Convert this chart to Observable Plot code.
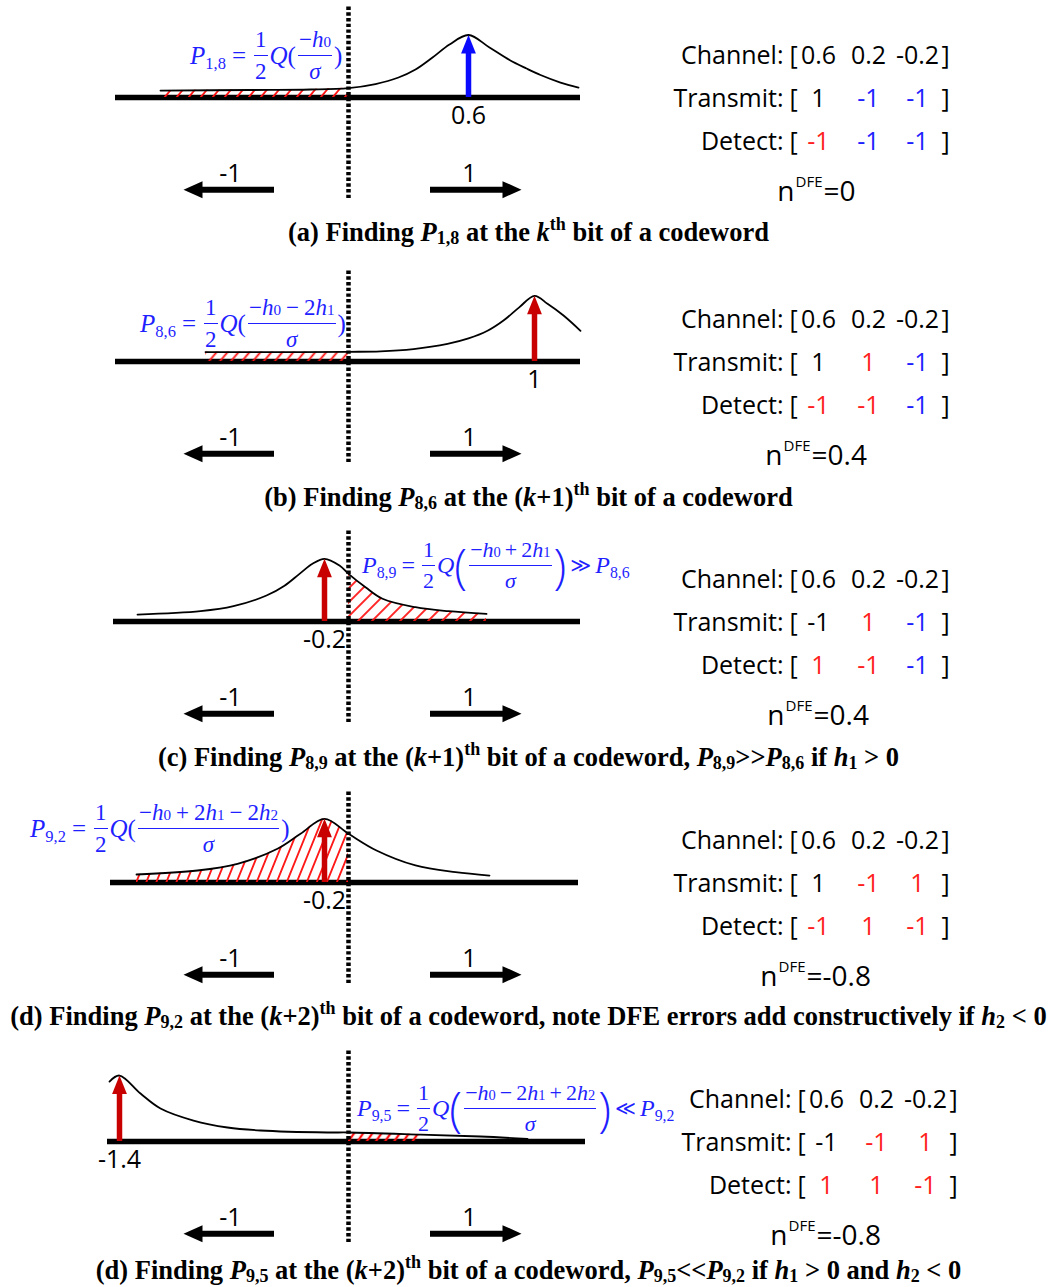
<!DOCTYPE html>
<html><head><meta charset="utf-8">
<script src="https://cdn.jsdelivr.net/npm/d3@7"></script>
<script src="https://cdn.jsdelivr.net/npm/@observablehq/plot@0.6"></script>
<style>
body{margin:0;background:#fff}
#root{position:relative;width:1057px;height:1287px;overflow:hidden}
.panel{position:absolute;left:0;width:1057px;height:212px}
.panel svg{display:block;overflow:visible}
.f{position:absolute;height:0;display:flex;align-items:center;color:#1f1fff;font-family:"Liberation Serif",serif;font-size:25px;line-height:1;white-space:nowrap}
.f sub{font-size:0.66em;vertical-align:-0.3em;font-style:normal;line-height:0}
.f .fr{display:flex;flex-direction:column;align-items:stretch;margin:0 2px;font-size:23px}
.f .nu{border-bottom:1.7px solid currentColor;padding:0 1px 4px;text-align:center}
.f .de{padding-top:4px;text-align:center}
.f .op{margin:0 6px}
.f .bo{margin:0 5px}
.f .big{font-family:"Open Sans",sans-serif;font-weight:300;font-size:50px;margin:0 1px}
.f .rel{margin:0 6px;font-family:"DejaVu Sans",sans-serif;font-size:21px}
.f.compact{font-size:24px}
.f.compact .fr{font-size:22px}
.f.compact .op{margin:0 5px}
.f.compact .bo{margin:0 4px}
.f.compact .big{font-size:47px;margin:0}
.f.compact .rel{margin:0 4px;font-size:20px}
.cap{position:absolute;left:0;width:1057px;text-align:center;font-family:"Liberation Serif",serif;font-weight:bold;font-size:26.5px;line-height:26px;white-space:nowrap}
.cap sub{font-size:0.68em;vertical-align:-0.15em;line-height:0}
.cap sup{font-size:0.68em;vertical-align:0.6em;line-height:0}
</style></head><body><div id="root"></div>
<script>
// ---------------- data ----------------
const panelIds = ["a", "b", "c", "d", "e"];
const peakPos = [0.6, 0.93, -0.12, -0.12, -1.145];
const peakHeight = [0.977, 1.027, 0.98, 0.995, 1.031];
const peakLabels = ["0.6", "1", "-0.2", "-0.2", "-1.4"];
const peakTone = ["b", "r", "r", "r", "r"];
const densityA = [[-0.94,0.109],[-0.49,0.117],[-0.19,0.125],[0,0.148],[0.135,0.211],[0.25,0.3125],[0.335,0.4375],[0.42,0.625],[0.505,0.828],[0.6,0.977],[0.705,0.781],[0.805,0.586],[0.89,0.453],[0.96,0.352],[1.06,0.234],[1.15,0.156]];
const densityB = [[-0.715,0.148],[-0.24,0.148],[0,0.152],[0.16,0.158],[0.325,0.194],[0.495,0.275],[0.6,0.36],[0.695,0.48],[0.775,0.64],[0.855,0.85],[0.93,1.027],[0.995,0.902],[1.075,0.719],[1.16,0.48]];
const densityC = [[-1.055,0.109],[-0.74,0.161],[-0.575,0.239],[-0.41,0.406],[-0.32,0.56],[-0.245,0.745],[-0.18,0.902],[-0.12,0.98],[-0.045,0.875],[0,0.745],[0.085,0.536],[0.17,0.355],[0.335,0.223],[0.5,0.161],[0.69,0.12]];
const densityD = [[-1.06,0.125],[-0.755,0.1875],[-0.555,0.292],[-0.355,0.527],[-0.24,0.761],[-0.12,0.995],[0,0.761],[0.14,0.5],[0.335,0.266],[0.535,0.161],[0.705,0.109]];
const densityE = [[-1.195,0.9375],[-1.145,1.031],[-1.04,0.75],[-0.94,0.516],[-0.775,0.328],[-0.605,0.219],[-0.44,0.172],[-0.105,0.141],[0,0.141],[0.36,0.109],[0.66,0.078],[0.895,0.039]];
const densities = [densityA, densityB, densityC, densityD, densityE];
const errorRegion = [[-0.94, 0], [-0.715, 0], [0, 0.69], [-1.06, 0], [0, 0.36]];
const axisSpan = [[-1.165, 1.16], [-1.165, 1.16], [-1.175, 1.16], [-1.19, 1.15], [-1.205, 1.185]];
const decisionLabels = ["-1", "1"];
const channelTaps = ["0.6", "0.2", "-0.2"];
const transmit = [["1","-1","-1"], ["1","1","-1"], ["-1","1","-1"], ["1","-1","1"], ["-1","-1","1"]];
const transmitTone = [["k","b","b"], ["k","r","b"], ["k","r","b"], ["k","r","r"], ["k","r","r"]];
const detect = [["-1","-1","-1"], ["-1","-1","-1"], ["1","-1","-1"], ["-1","1","-1"], ["1","1","-1"]];
const detectTone = [["r","b","b"], ["r","r","b"], ["r","r","b"], ["r","r","r"], ["r","r","r"]];
const nDFE = ["0", "0.4", "0.4", "-0.8", "-0.8"];
const rowLabels = ["Channel:", "Transmit:", "Detect:"];
const captions = [
  `(a) Finding <i>P</i><sub>1,8</sub> at the <i>k</i><sup>th</sup> bit of a codeword`,
  `(b) Finding <i>P</i><sub>8,6</sub> at the (<i>k</i>+1)<sup>th</sup> bit of a codeword`,
  `(c) Finding <i>P</i><sub>8,9</sub> at the (<i>k</i>+1)<sup>th</sup> bit of a codeword, <i>P</i><sub>8,9</sub>&gt;&gt;<i>P</i><sub>8,6</sub> if <i>h</i><sub>1</sub> &gt; 0`,
  `(d) Finding <i>P</i><sub>9,2</sub> at the (<i>k</i>+2)<sup>th</sup> bit of a codeword, note DFE errors add constructively if <i>h</i><sub>2</sub> &lt; 0`,
  `(d) Finding <i>P</i><sub>9,5</sub> at the (<i>k</i>+2)<sup>th</sup> bit of a codeword, <i>P</i><sub>9,5</sub>&lt;&lt;<i>P</i><sub>9,2</sub> if <i>h</i><sub>1</sub> &gt; 0 and <i>h</i><sub>2</sub> &lt; 0`
];
// formula pieces
const hs = k => `<i>h</i><sub>${k}</sub>`;
const formulaNum = [
  [`−${hs(0)}`],
  [`−${hs(0)}`, "−", `2${hs(1)}`],
  [`−${hs(0)}`, "+", `2${hs(1)}`],
  [`−${hs(0)}`, "+", `2${hs(1)}`, "−", `2${hs(2)}`],
  [`−${hs(0)}`, "−", `2${hs(1)}`, "+", `2${hs(2)}`]
];
const formulaP = ["1,8", "8,6", "8,9", "9,2", "9,5"];
const formulaRel = [null, null, ["≫", "8,6"], null, ["≪", "9,2"]];

// ---------------- style / layout ----------------
const W = 1057, H = 212;
const toneColor = {k: "#000000", r: "#ff1f1f", b: "#1f1fff"};
const arrowColor = {b: "#0a0aff", r: "#c80000"};
const blockTop = [0, 263.5, 524, 785, 1044];
const capTop = [219, 484, 744, 1003, 1257];
const formulaAt = [[190, 55], [140, 59.5], [362, 41], [30, 43], [357, 64]];
const tableShift = [0, 0, 0, 0, 0.04];
const ndfeX = [2.23, 2.17, 2.18, 2.145, 2.195];
const hatchStyle = [{p: 9.2, t: 40, w: 1.8}, {p: 8.4, t: 40, w: 1.8}, {p: 9.9, t: 45, w: 1.8}, {p: 9.3, t: 22, w: 1.8}, {p: 7.5, t: 35, w: 2.3}];
const sans = "Open Sans, sans-serif";

const headUp = {draw(c, size) { const s = Math.sqrt(size / Math.PI); c.moveTo(0, 0); c.lineTo(-0.78 * s, 1.95 * s); c.lineTo(0.78 * s, 1.95 * s); c.closePath(); }};
const headLeft = {draw(c, size) { const s = Math.sqrt(size / Math.PI); c.moveTo(0, 0); c.lineTo(1.9 * s, -0.85 * s); c.lineTo(1.9 * s, 0.85 * s); c.closePath(); }};
const headRight = {draw(c, size) { const s = Math.sqrt(size / Math.PI); c.moveTo(0, 0); c.lineTo(-1.9 * s, -0.85 * s); c.lineTo(-1.9 * s, 0.85 * s); c.closePath(); }};

const root = document.getElementById("root");

function formulaHTML(i) {
  const P = s => `<span><i>P</i><sub>${s}</sub></span>`;
  const frac = (n, d) => `<span class="fr"><span class="nu">${n}</span><span class="de">${d}</span></span>`;
  const num = formulaNum[i].map((t, j) => (j % 2 === 1 ? `<span class="bo">${t}</span>` : t)).join("");
  const big = formulaRel[i] != null;
  const lp = big ? `<span class="big">(</span>` : `<span>(</span>`;
  const rp = big ? `<span class="big">)</span>` : `<span>)</span>`;
  let html = P(formulaP[i]) + `<span class="op">=</span>` + frac("1", "2") + `<span><i>Q</i></span>` + lp +
    `<span class="fr"><span class="nu" style="display:flex;align-items:baseline;justify-content:center">${num}</span><span class="de"><i>σ</i></span></span>` + rp;
  if (big) html += `<span class="rel">${formulaRel[i][0]}</span>` + P(formulaRel[i][1]);
  return html;
}

panelIds.forEach((id, i) => {
  const dens = densities[i];
  const [lo, hi] = errorRegion[i];
  const sh = tableShift[i];
  const cols = [2.35, 2.6, 2.845].map(v => v + sh);
  const rowY = [0.656, -0.016, -0.6875];
  const labels = rowLabels.map((t, r) => ({x: 2.175 + sh, y: rowY[r], text: t}));
  const brackets = [];
  rowY.forEach(y => { brackets.push({x: 2.205 + sh, y, text: "["}); brackets.push({x: 2.965 + sh, y, text: "]"}); });
  const values = [];
  channelTaps.forEach((t, c) => values.push({x: cols[c], y: rowY[0], text: t, tone: "k"}));
  transmit[i].forEach((t, c) => values.push({x: cols[c], y: rowY[1], text: t, tone: transmitTone[i][c]}));
  detect[i].forEach((t, c) => values.push({x: cols[c], y: rowY[2], text: t, tone: detectTone[i][c]}));
  const ac = arrowColor[peakTone[i]];

  const svg = Plot.plot({
    width: W, height: H, margin: 0,
    x: {domain: [-1.74, 3.545], axis: null},
    y: {domain: [-1.797, 1.516], axis: null},
    color: {type: "identity"},
    style: {overflow: "visible", background: "none"},
    marks: [
      Plot.ruleY([0], {x1: axisSpan[i][0], x2: axisSpan[i][1], stroke: "#000", strokeWidth: 5.5}),
      Plot.areaY(dens, {x: d => d[0], y1: 0, y2: d => d[1], filter: d => d[0] >= lo - 1e-9 && d[0] <= hi + 1e-9, curve: "catmull-rom", fill: `url(#hatch-${id})`}),
      Plot.line(dens, {x: d => d[0], y: d => d[1], curve: "catmull-rom", stroke: "#000", strokeWidth: 1.8}),
      Plot.ruleX([0], {y1: -1.58, y2: 1.44, stroke: "#000", strokeWidth: 4.5, strokeDasharray: "3.4,2.3"}),
      Plot.ruleX([peakPos[i]], {x: d => d, y1: 0, y2: peakHeight[i] - 0.22, stroke: ac, strokeWidth: 5.5}),
      Plot.dot([peakPos[i]], {x: d => d, y: peakHeight[i], symbol: headUp, r: 9.5, fill: ac, stroke: "none"}),
      Plot.text([peakLabels[i]], {x: peakPos[i], y: -0.29, text: d => d, fontFamily: sans, fontSize: 25, fill: "#000"}),
      // decision arrows
      Plot.ruleY([-1.44], {x1: -0.76, x2: -0.37, stroke: "#000", strokeWidth: 6}),
      Plot.dot([-0.825], {x: d => d, y: -1.44, symbol: headLeft, r: 10, fill: "#000", stroke: "none"}),
      Plot.ruleY([-1.44], {x1: 0.41, x2: 0.80, stroke: "#000", strokeWidth: 6}),
      Plot.dot([0.865], {x: d => d, y: -1.44, symbol: headRight, r: 10, fill: "#000", stroke: "none"}),
      Plot.text(decisionLabels, {x: d => (d === "-1" ? -0.59 : 0.605), y: -1.19, text: d => d, fontFamily: sans, fontSize: 25, fill: "#000"}),
      // right table
      Plot.text(labels, {x: "x", y: "y", text: "text", textAnchor: "end", fontFamily: sans, fontSize: 25, fill: "#000"}),
      Plot.text(brackets, {x: "x", y: "y", text: "text", textAnchor: "start", fontFamily: sans, fontSize: 25, fill: "#000"}),
      Plot.text(values, {x: "x", y: "y", text: "text", fill: d => toneColor[d.tone], fontFamily: sans, fontSize: 25}),
      Plot.text(["n"], {x: ndfeX[i], y: -1.484, text: d => d, textAnchor: "end", fontFamily: sans, fontSize: 28, fill: "#000"}),
      Plot.text(["DFE"], {x: ndfeX[i] + 0.005, y: -1.33, text: d => d, textAnchor: "start", fontFamily: sans, fontSize: 15, fill: "#000"}),
      Plot.text(["=" + nDFE[i]], {x: ndfeX[i] + 0.145, y: -1.484, text: d => d, textAnchor: "start", fontFamily: sans, fontSize: 28, fill: "#000"})
    ]
  });

  // hatch pattern
  const hsty = hatchStyle[i];
  const defs = d3.select(svg).insert("defs", ":first-child");
  const pat = defs.append("pattern").attr("id", `hatch-${id}`).attr("patternUnits", "userSpaceOnUse")
    .attr("width", hsty.p).attr("height", 10).attr("patternTransform", `rotate(${hsty.t})`);
  pat.append("line").attr("x1", hsty.p / 2).attr("x2", hsty.p / 2).attr("y1", -1).attr("y2", 11)
    .attr("stroke", "#ff1010").attr("stroke-width", hsty.w);

  const block = document.createElement("div");
  block.className = "panel";
  block.style.top = blockTop[i] + "px";
  block.appendChild(svg);
  const f = document.createElement("div");
  f.className = formulaRel[i] != null ? "f compact" : "f";
  f.style.left = formulaAt[i][0] + "px";
  f.style.top = formulaAt[i][1] + "px";
  f.innerHTML = formulaHTML(i);
  block.appendChild(f);
  root.appendChild(block);

  const cap = document.createElement("div");
  cap.className = "cap";
  cap.style.top = capTop[i] + "px";
  cap.innerHTML = captions[i];
  root.appendChild(cap);
});
</script></body></html>
